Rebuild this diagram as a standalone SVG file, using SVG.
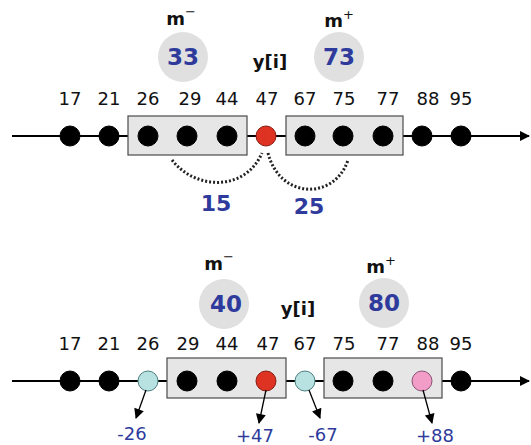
<svg xmlns="http://www.w3.org/2000/svg" width="531" height="445" viewBox="0 0 531 445">
  <defs>
    <marker id="axisHead" viewBox="0 0 10 10" refX="9" refY="5" markerWidth="11" markerHeight="10" markerUnits="userSpaceOnUse" orient="auto">
      <path d="M0,0 L10,5 L0,10 Z" fill="#000"/>
    </marker>
    <marker id="smallHead" viewBox="0 0 10 10" refX="9" refY="5" markerWidth="11" markerHeight="10" markerUnits="userSpaceOnUse" orient="auto">
      <path d="M0,0 L10,5 L0,10 Z" fill="#000"/>
    </marker>
  </defs>
  <style>
    .axis { stroke: #000; stroke-width: 2; fill: none; }
    .box { fill: #e6e6e6; stroke: #4a4a4a; stroke-width: 1.2; }
    .dot { fill: #000; stroke: #000; stroke-width: 1; }
    .red { fill: #de3323; stroke: #8a1c12; stroke-width: 1; }
    .cyan { fill: #b8e2e2; stroke: #4d7f80; stroke-width: 1; }
    .pink { fill: #f29cc8; stroke: #8a5473; stroke-width: 1; }
    .mean { fill: #e0e0e0; }
    .num { font-family: "DejaVu Sans", Verdana, sans-serif; font-size: 18px; fill: #111; text-anchor: middle; }
    .meanval { font-family: "DejaVu Sans", Verdana, sans-serif; font-size: 23px; font-weight: bold; fill: #2e3b9c; text-anchor: middle; }
    .dist { font-family: "DejaVu Sans", Verdana, sans-serif; font-size: 22px; font-weight: bold; fill: #2e3b9c; text-anchor: middle; }
    .delta { font-family: "DejaVu Sans", Verdana, sans-serif; font-size: 18px; fill: #2e3b9c; text-anchor: middle; }
    .lbl { font-family: "DejaVu Sans", Verdana, sans-serif; font-size: 18px; font-weight: bold; fill: #111; text-anchor: middle; }
    .sup { font-size: 13px; font-weight: normal; }
    .arc { fill: none; stroke: #222; stroke-width: 3; stroke-dasharray: 2 2; }
    .ptr { stroke: #000; stroke-width: 1.3; fill: none; }
  </style>

  <!-- ===== Upper panel ===== -->
  <g id="top-axis">
    <line class="axis" x1="12" y1="136" x2="529" y2="136" marker-end="url(#axisHead)"/>
  </g>
  <g id="top-lower-window">
    <rect class="box" x="128" y="116" width="119" height="39"/>
  </g>
  <g id="top-upper-window">
    <rect class="box" x="286" y="116" width="117" height="39"/>
  </g>
  <g id="top-mean-minus">
    <text class="lbl" x="181" y="25">m<tspan class="sup" dy="-9">−</tspan></text>
    <circle class="mean" cx="183" cy="57" r="25"/>
    <text class="meanval" x="183" y="65">33</text>
  </g>
  <g id="top-mean-plus">
    <text class="lbl" x="339" y="27">m<tspan class="sup" dy="-8">+</tspan></text>
    <circle class="mean" cx="339" cy="57" r="25"/>
    <text class="meanval" x="339" y="65">73</text>
  </g>
  <g id="top-yi">
    <text class="lbl" x="270" y="68">y[i]</text>
  </g>
  <g id="top-points">
    <circle class="dot" cx="70" cy="136" r="10"/>
    <circle class="dot" cx="109" cy="136" r="10"/>
    <circle class="dot" cx="148" cy="136" r="10"/>
    <circle class="dot" cx="187" cy="136" r="10"/>
    <circle class="dot" cx="227" cy="136" r="10"/>
    <circle class="red" cx="266" cy="136" r="10"/>
    <circle class="dot" cx="305" cy="136" r="10"/>
    <circle class="dot" cx="343" cy="136" r="10"/>
    <circle class="dot" cx="383" cy="136" r="10"/>
    <circle class="dot" cx="422" cy="136" r="10"/>
    <circle class="dot" cx="461" cy="136" r="10"/>
  </g>
  <g id="top-values">
    <text class="num" x="70" y="105">17</text>
    <text class="num" x="109" y="105">21</text>
    <text class="num" x="148" y="105">26</text>
    <text class="num" x="190" y="105">29</text>
    <text class="num" x="227" y="105">44</text>
    <text class="num" x="267" y="105">47</text>
    <text class="num" x="305" y="105">67</text>
    <text class="num" x="344" y="105">75</text>
    <text class="num" x="388" y="105">77</text>
    <text class="num" x="428" y="105">88</text>
    <text class="num" x="461" y="105">95</text>
  </g>
  <g id="top-distances">
    <text class="dist" x="216" y="211">15</text>
    <text class="dist" x="309" y="214">25</text>
  </g>

  <!-- ===== Lower panel ===== -->
  <g id="bottom-axis">
    <line class="axis" x1="12" y1="381" x2="529" y2="381" marker-end="url(#axisHead)"/>
  </g>
  <g id="bottom-lower-window">
    <rect class="box" x="167" y="358" width="119" height="40"/>
  </g>
  <g id="bottom-upper-window">
    <rect class="box" x="324" y="358" width="118" height="40"/>
  </g>
  <g id="bottom-mean-minus">
    <text class="lbl" x="219" y="270">m<tspan class="sup" dy="-9">−</tspan></text>
    <circle class="mean" cx="224" cy="304" r="25"/>
    <text class="meanval" x="226" y="312">40</text>
  </g>
  <g id="bottom-mean-plus">
    <text class="lbl" x="381" y="273">m<tspan class="sup" dy="-8">+</tspan></text>
    <circle class="mean" cx="384" cy="303" r="25"/>
    <text class="meanval" x="384" y="311">80</text>
  </g>
  <g id="bottom-yi">
    <text class="lbl" x="298" y="315">y[i]</text>
  </g>
  <g id="bottom-points">
    <circle class="dot" cx="70" cy="381" r="10"/>
    <circle class="dot" cx="109" cy="381" r="10"/>
    <circle class="cyan" cx="148" cy="381" r="10"/>
    <circle class="dot" cx="187" cy="381" r="10"/>
    <circle class="dot" cx="227" cy="381" r="10"/>
    <circle class="red" cx="266" cy="381" r="10"/>
    <circle class="cyan" cx="305" cy="381" r="10"/>
    <circle class="dot" cx="343" cy="381" r="10"/>
    <circle class="dot" cx="383" cy="381" r="10"/>
    <circle class="pink" cx="422" cy="381" r="10"/>
    <circle class="dot" cx="461" cy="381" r="10"/>
  </g>
  <g id="bottom-values">
    <text class="num" x="70" y="350">17</text>
    <text class="num" x="109" y="350">21</text>
    <text class="num" x="148" y="350">26</text>
    <text class="num" x="188" y="350">29</text>
    <text class="num" x="227" y="350">44</text>
    <text class="num" x="268" y="350">47</text>
    <text class="num" x="305" y="350">67</text>
    <text class="num" x="344" y="350">75</text>
    <text class="num" x="388" y="350">77</text>
    <text class="num" x="428" y="350">88</text>
    <text class="num" x="461" y="350">95</text>
  </g>
  <g id="bottom-deltas">
    <text class="delta" x="132" y="440">-26</text>
    <text class="delta" x="255" y="442">+47</text>
    <text class="delta" x="323" y="441">-67</text>
    <text class="delta" x="435" y="442">+88</text>
  </g>

  <!-- connectors: distance arcs and update pointers -->
  <g id="connectors">
    <path class="arc" d="M172,160 C195,190 245,192 262,153"/>
    <path class="arc" d="M268,153 C280,200 335,200 348,160"/>
    <line class="ptr" x1="146" y1="390" x2="136" y2="418" marker-end="url(#smallHead)"/>
    <line class="ptr" x1="266" y1="390" x2="259" y2="423" marker-end="url(#smallHead)"/>
    <line class="ptr" x1="309" y1="390" x2="320" y2="418" marker-end="url(#smallHead)"/>
    <line class="ptr" x1="423" y1="390" x2="432" y2="423" marker-end="url(#smallHead)"/>
  </g>
</svg>
